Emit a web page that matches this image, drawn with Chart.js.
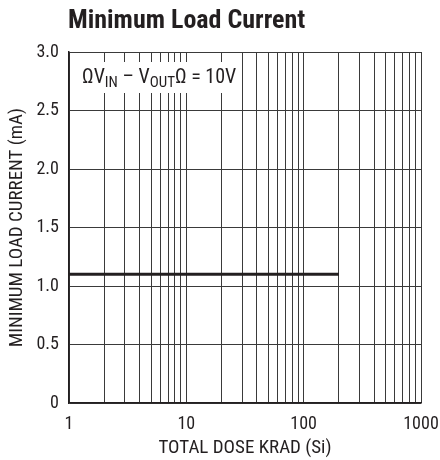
<!DOCTYPE html>
<html>
<head>
<meta charset="utf-8">
<script src="https://cdn.jsdelivr.net/npm/chart.js@4"></script>
<style>
  html, body { margin: 0; padding: 0; background: #fff; }
  #wrap { width: 440px; height: 460px; }
</style>
</head>
<body>
<div id="wrap"><canvas id="chart" width="440" height="460"></canvas></div>
<script>
// data
var doseKrad = [1, 200];
var loadCurrent = [1.1, 1.1];
var decadeLabels = [1, 10, 100, 1000];
var chartTitle = 'Minimum Load Current';
var noteParts = ['\u03A9V', 'IN', ' \u2013 V', 'OUT', '\u03A9 = 10V'];

var FONT = '"Roboto Condensed", "Liberation Sans", sans-serif';
var INK = '#231f20';

// title and the boxed note sit in the top-left of the plot
var extras = {
    id: 'extras',
    afterDraw: function (chart) {
        var ctx = chart.ctx, a = chart.chartArea;
        ctx.save();
        ctx.fillStyle = INK;
        ctx.textBaseline = 'alphabetic';
        ctx.font = 'bold 26px ' + FONT;
        ctx.fillText(chartTitle, a.left - 1, 28);

        // white patch behind the note, then the note with subscripts
        ctx.fillStyle = '#fff';
        ctx.fillRect(a.left + 4, a.top + 10, 169, 31);
        ctx.fillStyle = INK;
        var x = a.left + 13, base = a.top + 31;
        noteParts.forEach(function (p, i) {
            var sub = i % 2 === 1;
            ctx.font = (sub ? '15px ' : '20px ') + FONT;
            ctx.fillText(p, x, sub ? base + 4 : base);
            x += ctx.measureText(p).width;
        });
        ctx.restore();
    }
};

new Chart(document.getElementById('chart'), {
    type: 'line',
    data: {
        datasets: [{
            data: doseKrad.map(function (d, i) { return { x: d, y: loadCurrent[i] }; }),
            borderColor: INK,
            borderWidth: 3,
            pointRadius: 0,
            fill: false
        }]
    },
    options: {
        responsive: false,
        animation: false,
        layout: { padding: { top: 52, right: 19, left: 0, bottom: 0 } },
        plugins: { legend: { display: false }, title: { display: false }, tooltip: { enabled: false } },
        scales: {
            x: {
                type: 'logarithmic',
                min: 1,
                max: 1000,
                afterBuildTicks: function (scale) {
                    var t = [];
                    for (var d = 1; d < 1000; d *= 10) {
                        for (var m = 1; m < 10; m++) t.push({ value: m * d });
                    }
                    t.push({ value: 1000 });
                    scale.ticks = t;
                },
                afterFit: function (scale) {
                    scale.height = 57;
                    scale.paddingLeft = 0;
                    scale.paddingRight = 0;
                },
                grid: { color: '#3a3a3a', lineWidth: 1, drawTicks: false },
                border: { color: INK, width: 1.5 },
                ticks: {
                    autoSkip: false,
                    maxRotation: 0,
                    padding: 11,
                    color: INK,
                    font: { family: FONT, size: 18 },
                    callback: function (v) {
                        return decadeLabels.indexOf(v) >= 0 ? String(v) : '';
                    }
                },
                title: {
                    display: true,
                    text: 'TOTAL DOSE KRAD (Si)',
                    color: INK,
                    font: { family: FONT, size: 19 },
                    padding: { top: 4, bottom: 0 }
                }
            },
            y: {
                min: 0,
                max: 3,
                afterFit: function (scale) { scale.width = 69; },
                grid: { color: '#3a3a3a', lineWidth: 1, drawTicks: false },
                border: { color: INK, width: 1.5 },
                ticks: {
                    stepSize: 0.5,
                    padding: 10,
                    color: INK,
                    font: { family: FONT, size: 18 },
                    callback: function (v) { return v === 0 ? '0' : v.toFixed(1); }
                },
                title: {
                    display: true,
                    text: 'MINIMUM LOAD CURRENT (mA)',
                    color: INK,
                    font: { family: FONT, size: 19 },
                    padding: { top: 6, bottom: 0 }
                }
            }
        }
    },
    plugins: [extras]
});
</script>
</body>
</html>
